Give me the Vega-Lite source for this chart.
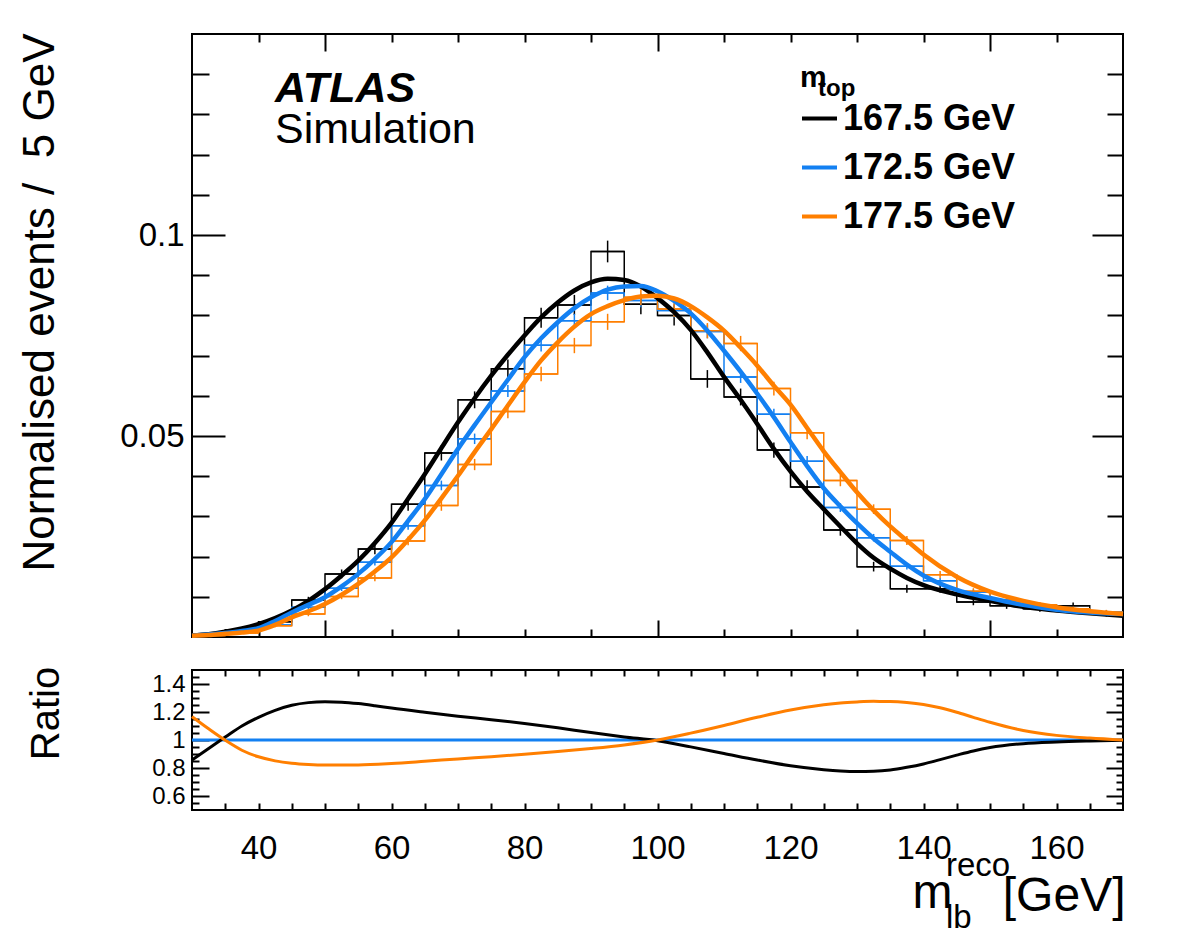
{
  "$schema": "https://vega.github.io/schema/vega-lite/v6.json",
  "padding": {"left": 16, "top": 31, "right": 0, "bottom": 0},
  "bounds": "flush",
  "spacing": 33,
  "background": "white",
  "config": {
    "font": "Liberation Sans",
    "view": {"stroke": "black", "strokeWidth": 2},
    "axis": {"domain": false, "grid": false, "labelFont": "Liberation Sans", "titleFont": "Liberation Sans", "labelColor": "black", "titleColor": "black", "tickColor": "black", "tickWidth": 2, "titleFontWeight": "normal", "labelFontWeight": "normal"}
  },
  "title": {"text": "top", "anchor": "start", "frame": "group", "orient": "top", "offset": 0, "baseline": "alphabetic", "font": "Liberation Sans", "fontSize": 24, "fontWeight": "bold", "color": "black", "dx": 626, "dy": 88},
  "datasets": {
    "hist": [
      {"s":"167.5 GeV","lo":30,"hi":35,"xc":32.5,"v":0.0006,"e":0.0002},
      {"s":"167.5 GeV","lo":35,"hi":40,"xc":37.5,"v":0.0018,"e":0.0004},
      {"s":"167.5 GeV","lo":40,"hi":45,"xc":42.5,"v":0.0038,"e":0.0005},
      {"s":"167.5 GeV","lo":45,"hi":50,"xc":47.5,"v":0.0092,"e":0.0008},
      {"s":"167.5 GeV","lo":50,"hi":55,"xc":52.5,"v":0.0157,"e":0.0011},
      {"s":"167.5 GeV","lo":55,"hi":60,"xc":57.5,"v":0.0219,"e":0.0013},
      {"s":"167.5 GeV","lo":60,"hi":65,"xc":62.5,"v":0.0330,"e":0.0016},
      {"s":"167.5 GeV","lo":65,"hi":70,"xc":67.5,"v":0.0458,"e":0.0019},
      {"s":"167.5 GeV","lo":70,"hi":75,"xc":72.5,"v":0.0590,"e":0.0021},
      {"s":"167.5 GeV","lo":75,"hi":80,"xc":77.5,"v":0.0667,"e":0.0023},
      {"s":"167.5 GeV","lo":80,"hi":85,"xc":82.5,"v":0.0794,"e":0.0025},
      {"s":"167.5 GeV","lo":85,"hi":90,"xc":87.5,"v":0.0826,"e":0.0025},
      {"s":"167.5 GeV","lo":90,"hi":95,"xc":92.5,"v":0.0959,"e":0.0027},
      {"s":"167.5 GeV","lo":95,"hi":100,"xc":97.5,"v":0.0828,"e":0.0025},
      {"s":"167.5 GeV","lo":100,"hi":105,"xc":102.5,"v":0.0800,"e":0.0025},
      {"s":"167.5 GeV","lo":105,"hi":110,"xc":107.5,"v":0.0642,"e":0.0022},
      {"s":"167.5 GeV","lo":110,"hi":115,"xc":112.5,"v":0.0597,"e":0.0021},
      {"s":"167.5 GeV","lo":115,"hi":120,"xc":117.5,"v":0.0465,"e":0.0019},
      {"s":"167.5 GeV","lo":120,"hi":125,"xc":122.5,"v":0.0373,"e":0.0017},
      {"s":"167.5 GeV","lo":125,"hi":130,"xc":127.5,"v":0.0266,"e":0.0014},
      {"s":"167.5 GeV","lo":130,"hi":135,"xc":132.5,"v":0.0175,"e":0.0012},
      {"s":"167.5 GeV","lo":135,"hi":140,"xc":137.5,"v":0.0120,"e":0.0010},
      {"s":"167.5 GeV","lo":140,"hi":145,"xc":142.5,"v":0.0120,"e":0.0010},
      {"s":"167.5 GeV","lo":145,"hi":150,"xc":147.5,"v":0.0087,"e":0.0008},
      {"s":"167.5 GeV","lo":150,"hi":155,"xc":152.5,"v":0.0078,"e":0.0008},
      {"s":"167.5 GeV","lo":155,"hi":160,"xc":157.5,"v":0.0070,"e":0.0007},
      {"s":"167.5 GeV","lo":160,"hi":165,"xc":162.5,"v":0.0078,"e":0.0008},
      {"s":"167.5 GeV","lo":165,"hi":170,"xc":167.5,"v":0.0058,"e":0.0007},
      {"s":"172.5 GeV","lo":30,"hi":35,"xc":32.5,"v":0.0005,"e":0.00013},
      {"s":"172.5 GeV","lo":35,"hi":40,"xc":37.5,"v":0.0014,"e":0.00022},
      {"s":"172.5 GeV","lo":40,"hi":45,"xc":42.5,"v":0.0030,"e":0.00033},
      {"s":"172.5 GeV","lo":45,"hi":50,"xc":47.5,"v":0.0074,"e":0.0005},
      {"s":"172.5 GeV","lo":50,"hi":55,"xc":52.5,"v":0.0121,"e":0.00066},
      {"s":"172.5 GeV","lo":55,"hi":60,"xc":57.5,"v":0.0186,"e":0.0008},
      {"s":"172.5 GeV","lo":60,"hi":65,"xc":62.5,"v":0.0277,"e":0.001},
      {"s":"172.5 GeV","lo":65,"hi":70,"xc":67.5,"v":0.0377,"e":0.0012},
      {"s":"172.5 GeV","lo":70,"hi":75,"xc":72.5,"v":0.0493,"e":0.0013},
      {"s":"172.5 GeV","lo":75,"hi":80,"xc":77.5,"v":0.0612,"e":0.0015},
      {"s":"172.5 GeV","lo":80,"hi":85,"xc":82.5,"v":0.0726,"e":0.0016},
      {"s":"172.5 GeV","lo":85,"hi":90,"xc":87.5,"v":0.0787,"e":0.0017},
      {"s":"172.5 GeV","lo":90,"hi":95,"xc":92.5,"v":0.0856,"e":0.0018},
      {"s":"172.5 GeV","lo":95,"hi":100,"xc":97.5,"v":0.0837,"e":0.0017},
      {"s":"172.5 GeV","lo":100,"hi":105,"xc":102.5,"v":0.0812,"e":0.0017},
      {"s":"172.5 GeV","lo":105,"hi":110,"xc":107.5,"v":0.0760,"e":0.0017},
      {"s":"172.5 GeV","lo":110,"hi":115,"xc":112.5,"v":0.0647,"e":0.0015},
      {"s":"172.5 GeV","lo":115,"hi":120,"xc":117.5,"v":0.0554,"e":0.0014},
      {"s":"172.5 GeV","lo":120,"hi":125,"xc":122.5,"v":0.0437,"e":0.0013},
      {"s":"172.5 GeV","lo":125,"hi":130,"xc":127.5,"v":0.0322,"e":0.0011},
      {"s":"172.5 GeV","lo":130,"hi":135,"xc":132.5,"v":0.0247,"e":0.00094},
      {"s":"172.5 GeV","lo":135,"hi":140,"xc":137.5,"v":0.0176,"e":0.0008},
      {"s":"172.5 GeV","lo":140,"hi":145,"xc":142.5,"v":0.0140,"e":0.0007},
      {"s":"172.5 GeV","lo":145,"hi":150,"xc":147.5,"v":0.0112,"e":0.00063},
      {"s":"172.5 GeV","lo":150,"hi":155,"xc":152.5,"v":0.0092,"e":0.00058},
      {"s":"172.5 GeV","lo":155,"hi":160,"xc":157.5,"v":0.0080,"e":0.00054},
      {"s":"172.5 GeV","lo":160,"hi":165,"xc":162.5,"v":0.0070,"e":0.0005},
      {"s":"172.5 GeV","lo":165,"hi":170,"xc":167.5,"v":0.0062,"e":0.00047},
      {"s":"177.5 GeV","lo":30,"hi":35,"xc":32.5,"v":0.0004,"e":0.00014},
      {"s":"177.5 GeV","lo":35,"hi":40,"xc":37.5,"v":0.0010,"e":0.00022},
      {"s":"177.5 GeV","lo":40,"hi":45,"xc":42.5,"v":0.0028,"e":0.00037},
      {"s":"177.5 GeV","lo":45,"hi":50,"xc":47.5,"v":0.0057,"e":0.00053},
      {"s":"177.5 GeV","lo":50,"hi":55,"xc":52.5,"v":0.0101,"e":0.0007},
      {"s":"177.5 GeV","lo":55,"hi":60,"xc":57.5,"v":0.0147,"e":0.00085},
      {"s":"177.5 GeV","lo":60,"hi":65,"xc":62.5,"v":0.0239,"e":0.0011},
      {"s":"177.5 GeV","lo":65,"hi":70,"xc":67.5,"v":0.0327,"e":0.0013},
      {"s":"177.5 GeV","lo":70,"hi":75,"xc":72.5,"v":0.0429,"e":0.0014},
      {"s":"177.5 GeV","lo":75,"hi":80,"xc":77.5,"v":0.0561,"e":0.0017},
      {"s":"177.5 GeV","lo":80,"hi":85,"xc":82.5,"v":0.0654,"e":0.0018},
      {"s":"177.5 GeV","lo":85,"hi":90,"xc":87.5,"v":0.0725,"e":0.0019},
      {"s":"177.5 GeV","lo":90,"hi":95,"xc":92.5,"v":0.0784,"e":0.002},
      {"s":"177.5 GeV","lo":95,"hi":100,"xc":97.5,"v":0.0845,"e":0.002},
      {"s":"177.5 GeV","lo":100,"hi":105,"xc":102.5,"v":0.0816,"e":0.002},
      {"s":"177.5 GeV","lo":105,"hi":110,"xc":107.5,"v":0.0762,"e":0.0019},
      {"s":"177.5 GeV","lo":110,"hi":115,"xc":112.5,"v":0.0730,"e":0.0019},
      {"s":"177.5 GeV","lo":115,"hi":120,"xc":117.5,"v":0.0618,"e":0.0017},
      {"s":"177.5 GeV","lo":120,"hi":125,"xc":122.5,"v":0.0508,"e":0.0016},
      {"s":"177.5 GeV","lo":125,"hi":130,"xc":127.5,"v":0.0389,"e":0.0014},
      {"s":"177.5 GeV","lo":130,"hi":135,"xc":132.5,"v":0.0318,"e":0.0012},
      {"s":"177.5 GeV","lo":135,"hi":140,"xc":137.5,"v":0.0240,"e":0.0011},
      {"s":"177.5 GeV","lo":140,"hi":145,"xc":142.5,"v":0.0155,"e":0.0009},
      {"s":"177.5 GeV","lo":145,"hi":150,"xc":147.5,"v":0.0114,"e":0.00075},
      {"s":"177.5 GeV","lo":150,"hi":155,"xc":152.5,"v":0.0090,"e":0.00066},
      {"s":"177.5 GeV","lo":155,"hi":160,"xc":157.5,"v":0.0080,"e":0.00063},
      {"s":"177.5 GeV","lo":160,"hi":165,"xc":162.5,"v":0.0070,"e":0.00059},
      {"s":"177.5 GeV","lo":165,"hi":170,"xc":167.5,"v":0.0062,"e":0.00055}
    ],
    "fit": [
      {"s":"167.5 GeV","x":30,"y":0.0004},{"s":"167.5 GeV","x":32.5,"y":0.0007},{"s":"167.5 GeV","x":35,"y":0.0013},{"s":"167.5 GeV","x":37.5,"y":0.0021},
      {"s":"167.5 GeV","x":40,"y":0.0032},{"s":"167.5 GeV","x":42.5,"y":0.0047},{"s":"167.5 GeV","x":45,"y":0.0066},{"s":"167.5 GeV","x":47.5,"y":0.0090},
      {"s":"167.5 GeV","x":50,"y":0.0119},{"s":"167.5 GeV","x":52.5,"y":0.0153},{"s":"167.5 GeV","x":55,"y":0.0190},{"s":"167.5 GeV","x":57.5,"y":0.0234},
      {"s":"167.5 GeV","x":60,"y":0.0284},{"s":"167.5 GeV","x":62.5,"y":0.0344},{"s":"167.5 GeV","x":65,"y":0.0405},{"s":"167.5 GeV","x":67.5,"y":0.0470},
      {"s":"167.5 GeV","x":70,"y":0.0534},{"s":"167.5 GeV","x":72.5,"y":0.0594},{"s":"167.5 GeV","x":75,"y":0.0650},{"s":"167.5 GeV","x":77.5,"y":0.0702},
      {"s":"167.5 GeV","x":80,"y":0.0750},{"s":"167.5 GeV","x":82.5,"y":0.0795},{"s":"167.5 GeV","x":85,"y":0.0832},{"s":"167.5 GeV","x":87.5,"y":0.0862},
      {"s":"167.5 GeV","x":90,"y":0.0882},{"s":"167.5 GeV","x":92.5,"y":0.0891},{"s":"167.5 GeV","x":95,"y":0.0888},{"s":"167.5 GeV","x":97.5,"y":0.0872},
      {"s":"167.5 GeV","x":100,"y":0.0843},{"s":"167.5 GeV","x":102.5,"y":0.0808},{"s":"167.5 GeV","x":105,"y":0.0764},{"s":"167.5 GeV","x":107.5,"y":0.0708},
      {"s":"167.5 GeV","x":110,"y":0.0647},{"s":"167.5 GeV","x":112.5,"y":0.0590},{"s":"167.5 GeV","x":115,"y":0.0530},{"s":"167.5 GeV","x":117.5,"y":0.0468},
      {"s":"167.5 GeV","x":120,"y":0.0412},{"s":"167.5 GeV","x":122.5,"y":0.0362},{"s":"167.5 GeV","x":125,"y":0.0318},{"s":"167.5 GeV","x":127.5,"y":0.0275},
      {"s":"167.5 GeV","x":130,"y":0.0233},{"s":"167.5 GeV","x":132.5,"y":0.0197},{"s":"167.5 GeV","x":135,"y":0.0170},{"s":"167.5 GeV","x":137.5,"y":0.0147},
      {"s":"167.5 GeV","x":140,"y":0.0129},{"s":"167.5 GeV","x":145,"y":0.0106},{"s":"167.5 GeV","x":150,"y":0.0090},{"s":"167.5 GeV","x":155,"y":0.0075},
      {"s":"167.5 GeV","x":160,"y":0.0066},{"s":"167.5 GeV","x":165,"y":0.0059},{"s":"167.5 GeV","x":170,"y":0.0053},
      {"s":"172.5 GeV","x":30,"y":0.0003},{"s":"172.5 GeV","x":32.5,"y":0.0006},{"s":"172.5 GeV","x":35,"y":0.0010},{"s":"172.5 GeV","x":37.5,"y":0.0015},
      {"s":"172.5 GeV","x":40,"y":0.0022},{"s":"172.5 GeV","x":42.5,"y":0.0040},{"s":"172.5 GeV","x":45,"y":0.0061},{"s":"172.5 GeV","x":47.5,"y":0.0080},
      {"s":"172.5 GeV","x":50,"y":0.0099},{"s":"172.5 GeV","x":52.5,"y":0.0126},{"s":"172.5 GeV","x":55,"y":0.0157},{"s":"172.5 GeV","x":57.5,"y":0.0194},
      {"s":"172.5 GeV","x":60,"y":0.0236},{"s":"172.5 GeV","x":62.5,"y":0.0289},{"s":"172.5 GeV","x":65,"y":0.0343},{"s":"172.5 GeV","x":67.5,"y":0.0405},
      {"s":"172.5 GeV","x":70,"y":0.0468},{"s":"172.5 GeV","x":72.5,"y":0.0527},{"s":"172.5 GeV","x":75,"y":0.0584},{"s":"172.5 GeV","x":77.5,"y":0.0640},
      {"s":"172.5 GeV","x":80,"y":0.0696},{"s":"172.5 GeV","x":82.5,"y":0.0743},{"s":"172.5 GeV","x":85,"y":0.0783},{"s":"172.5 GeV","x":87.5,"y":0.0818},
      {"s":"172.5 GeV","x":90,"y":0.0845},{"s":"172.5 GeV","x":92.5,"y":0.0864},{"s":"172.5 GeV","x":95,"y":0.0872},{"s":"172.5 GeV","x":97.5,"y":0.0873},
      {"s":"172.5 GeV","x":100,"y":0.0860},{"s":"172.5 GeV","x":102.5,"y":0.0836},{"s":"172.5 GeV","x":105,"y":0.0805},{"s":"172.5 GeV","x":107.5,"y":0.0762},
      {"s":"172.5 GeV","x":110,"y":0.0712},{"s":"172.5 GeV","x":112.5,"y":0.0660},{"s":"172.5 GeV","x":115,"y":0.0605},{"s":"172.5 GeV","x":117.5,"y":0.0547},
      {"s":"172.5 GeV","x":120,"y":0.0485},{"s":"172.5 GeV","x":122.5,"y":0.0425},{"s":"172.5 GeV","x":125,"y":0.0370},{"s":"172.5 GeV","x":127.5,"y":0.0325},
      {"s":"172.5 GeV","x":130,"y":0.0283},{"s":"172.5 GeV","x":132.5,"y":0.0245},{"s":"172.5 GeV","x":135,"y":0.0212},{"s":"172.5 GeV","x":137.5,"y":0.0180},
      {"s":"172.5 GeV","x":140,"y":0.0153},{"s":"172.5 GeV","x":145,"y":0.0117},{"s":"172.5 GeV","x":150,"y":0.0097},{"s":"172.5 GeV","x":155,"y":0.0080},
      {"s":"172.5 GeV","x":160,"y":0.0068},{"s":"172.5 GeV","x":165,"y":0.0061},{"s":"172.5 GeV","x":170,"y":0.0057},
      {"s":"177.5 GeV","x":30,"y":0.0003},{"s":"177.5 GeV","x":32.5,"y":0.0005},{"s":"177.5 GeV","x":35,"y":0.0008},{"s":"177.5 GeV","x":37.5,"y":0.0011},
      {"s":"177.5 GeV","x":40,"y":0.0016},{"s":"177.5 GeV","x":42.5,"y":0.0030},{"s":"177.5 GeV","x":45,"y":0.0049},{"s":"177.5 GeV","x":47.5,"y":0.0064},
      {"s":"177.5 GeV","x":50,"y":0.0082},{"s":"177.5 GeV","x":52.5,"y":0.0105},{"s":"177.5 GeV","x":55,"y":0.0132},{"s":"177.5 GeV","x":57.5,"y":0.0163},
      {"s":"177.5 GeV","x":60,"y":0.0198},{"s":"177.5 GeV","x":62.5,"y":0.0242},{"s":"177.5 GeV","x":65,"y":0.0290},{"s":"177.5 GeV","x":67.5,"y":0.0345},
      {"s":"177.5 GeV","x":70,"y":0.0401},{"s":"177.5 GeV","x":72.5,"y":0.0460},{"s":"177.5 GeV","x":75,"y":0.0517},{"s":"177.5 GeV","x":77.5,"y":0.0576},
      {"s":"177.5 GeV","x":80,"y":0.0634},{"s":"177.5 GeV","x":82.5,"y":0.0688},{"s":"177.5 GeV","x":85,"y":0.0733},{"s":"177.5 GeV","x":87.5,"y":0.0772},
      {"s":"177.5 GeV","x":90,"y":0.0803},{"s":"177.5 GeV","x":92.5,"y":0.0823},{"s":"177.5 GeV","x":95,"y":0.0838},{"s":"177.5 GeV","x":97.5,"y":0.0847},
      {"s":"177.5 GeV","x":100,"y":0.0849},{"s":"177.5 GeV","x":102.5,"y":0.0842},{"s":"177.5 GeV","x":105,"y":0.0823},{"s":"177.5 GeV","x":107.5,"y":0.0795},
      {"s":"177.5 GeV","x":110,"y":0.0762},{"s":"177.5 GeV","x":112.5,"y":0.0720},{"s":"177.5 GeV","x":115,"y":0.0675},{"s":"177.5 GeV","x":117.5,"y":0.0625},
      {"s":"177.5 GeV","x":120,"y":0.0578},{"s":"177.5 GeV","x":122.5,"y":0.0520},{"s":"177.5 GeV","x":125,"y":0.0462},{"s":"177.5 GeV","x":127.5,"y":0.0410},
      {"s":"177.5 GeV","x":130,"y":0.0360},{"s":"177.5 GeV","x":132.5,"y":0.0315},{"s":"177.5 GeV","x":135,"y":0.0275},{"s":"177.5 GeV","x":137.5,"y":0.0240},
      {"s":"177.5 GeV","x":140,"y":0.0205},{"s":"177.5 GeV","x":145,"y":0.0150},{"s":"177.5 GeV","x":150,"y":0.0113},{"s":"177.5 GeV","x":155,"y":0.0090},
      {"s":"177.5 GeV","x":160,"y":0.0074},{"s":"177.5 GeV","x":165,"y":0.0064},{"s":"177.5 GeV","x":170,"y":0.0057}
    ],
    "ratio": [
      {"s":"167.5 GeV","x":30,"r":0.857},{"s":"167.5 GeV","x":32.5,"r":0.94},{"s":"167.5 GeV","x":35,"r":1.021},{"s":"167.5 GeV","x":37.5,"r":1.10},
      {"s":"167.5 GeV","x":40,"r":1.162},{"s":"167.5 GeV","x":42.5,"r":1.212},{"s":"167.5 GeV","x":45,"r":1.248},{"s":"167.5 GeV","x":47.5,"r":1.267},
      {"s":"167.5 GeV","x":50,"r":1.273},{"s":"167.5 GeV","x":52.5,"r":1.27},{"s":"167.5 GeV","x":55,"r":1.26},{"s":"167.5 GeV","x":57.5,"r":1.245},
      {"s":"167.5 GeV","x":60,"r":1.228},{"s":"167.5 GeV","x":65,"r":1.198},{"s":"167.5 GeV","x":70,"r":1.17},{"s":"167.5 GeV","x":75,"r":1.145},
      {"s":"167.5 GeV","x":80,"r":1.118},{"s":"167.5 GeV","x":85,"r":1.087},{"s":"167.5 GeV","x":90,"r":1.053},{"s":"167.5 GeV","x":95,"r":1.022},
      {"s":"167.5 GeV","x":100,"r":0.995},{"s":"167.5 GeV","x":105,"r":0.951},{"s":"167.5 GeV","x":110,"r":0.904},{"s":"167.5 GeV","x":115,"r":0.857},
      {"s":"167.5 GeV","x":120,"r":0.816},{"s":"167.5 GeV","x":125,"r":0.788},{"s":"167.5 GeV","x":127.5,"r":0.779},{"s":"167.5 GeV","x":130,"r":0.775},
      {"s":"167.5 GeV","x":132.5,"r":0.777},{"s":"167.5 GeV","x":135,"r":0.786},{"s":"167.5 GeV","x":137.5,"r":0.805},{"s":"167.5 GeV","x":140,"r":0.829},
      {"s":"167.5 GeV","x":142.5,"r":0.86},{"s":"167.5 GeV","x":145,"r":0.892},{"s":"167.5 GeV","x":147.5,"r":0.922},{"s":"167.5 GeV","x":150,"r":0.946},
      {"s":"167.5 GeV","x":155,"r":0.974},{"s":"167.5 GeV","x":160,"r":0.986},{"s":"167.5 GeV","x":165,"r":0.993},{"s":"167.5 GeV","x":170,"r":0.998},
      {"s":"172.5 GeV","x":30,"r":1},{"s":"172.5 GeV","x":170,"r":1},
      {"s":"177.5 GeV","x":30,"r":1.167},{"s":"177.5 GeV","x":32.5,"r":1.08},{"s":"177.5 GeV","x":35,"r":0.998},{"s":"177.5 GeV","x":37.5,"r":0.927},
      {"s":"177.5 GeV","x":40,"r":0.88},{"s":"177.5 GeV","x":42.5,"r":0.851},{"s":"177.5 GeV","x":45,"r":0.834},{"s":"177.5 GeV","x":47.5,"r":0.825},
      {"s":"177.5 GeV","x":50,"r":0.821},{"s":"177.5 GeV","x":55,"r":0.822},{"s":"177.5 GeV","x":60,"r":0.832},{"s":"177.5 GeV","x":65,"r":0.848},
      {"s":"177.5 GeV","x":70,"r":0.865},{"s":"177.5 GeV","x":75,"r":0.881},{"s":"177.5 GeV","x":80,"r":0.898},{"s":"177.5 GeV","x":85,"r":0.917},
      {"s":"177.5 GeV","x":90,"r":0.939},{"s":"177.5 GeV","x":95,"r":0.965},{"s":"177.5 GeV","x":100,"r":1.0},{"s":"177.5 GeV","x":105,"r":1.049},
      {"s":"177.5 GeV","x":110,"r":1.104},{"s":"177.5 GeV","x":115,"r":1.162},{"s":"177.5 GeV","x":120,"r":1.214},{"s":"177.5 GeV","x":125,"r":1.252},
      {"s":"177.5 GeV","x":127.5,"r":1.265},{"s":"177.5 GeV","x":130,"r":1.272},{"s":"177.5 GeV","x":132.5,"r":1.276},{"s":"177.5 GeV","x":135,"r":1.275},
      {"s":"177.5 GeV","x":137.5,"r":1.268},{"s":"177.5 GeV","x":140,"r":1.254},{"s":"177.5 GeV","x":142.5,"r":1.23},{"s":"177.5 GeV","x":145,"r":1.198},
      {"s":"177.5 GeV","x":147.5,"r":1.162},{"s":"177.5 GeV","x":150,"r":1.127},{"s":"177.5 GeV","x":155,"r":1.068},{"s":"177.5 GeV","x":160,"r":1.033},
      {"s":"177.5 GeV","x":165,"r":1.014},{"s":"177.5 GeV","x":170,"r":1.0}
    ]
  },
  "vconcat": [
    {
      "width": 931,
      "height": 603,
      "title": {"text": "ATLAS", "subtitle": "Simulation", "anchor": "start", "frame": "group", "orient": "top", "offset": 0, "baseline": "top", "font": "Liberation Sans", "fontSize": 43, "fontWeight": "bold", "fontStyle": "italic", "color": "black", "subtitleFont": "Liberation Sans", "subtitleFontSize": 43, "subtitleFontStyle": "normal", "subtitleFontWeight": "normal", "subtitleColor": "black", "subtitlePadding": -2, "dx": 83, "dy": 119},
      "resolve": {"axis": {"x": "independent", "y": "independent"}},
      "layer": [
        {
          "data": {"name": "hist"},
          "mark": {"type": "rule", "strokeWidth": 1.5},
          "encoding": {
            "x": {"field": "lo", "type": "quantitative", "scale": {"domain": [30, 170], "nice": false, "zero": false},
                  "axis": {"orient": "bottom", "values": [40,50,60,70,80,90,100,110,120,130,140,150,160], "labels": false, "title": null,
                           "tickSize": {"condition": {"test": "datum.value == 50 || datum.value == 100 || datum.value == 150", "value": -17}, "value": -8}}},
            "x2": {"field": "hi"},
            "y": {"field": "v", "type": "quantitative", "scale": {"domain": [0, 0.15], "nice": false, "zero": false},
                  "axis": {"orient": "left", "values": [0.01,0.02,0.03,0.04,0.05,0.06,0.07,0.08,0.09,0.1,0.11,0.12,0.13,0.14],
                           "labelExpr": "datum.value == 0.05 ? '0.05' : (datum.value == 0.1 ? '0.1' : '')",
                           "labelFontSize": 33, "labelPadding": 41,
                           "tickSize": {"condition": {"test": "datum.value == 0.05 || datum.value == 0.1", "value": -33}, "value": -17},
                           "title": "Normalised events / \u00a05 GeV", "titleFontSize": 44, "titleX": -139, "titleY": 268, "titleAngle": -90, "titleBaseline": "alphabetic", "titleAlign": "center"}},
            "color": {"field": "s", "type": "nominal", "scale": {"domain": ["167.5 GeV", "172.5 GeV", "177.5 GeV"], "range": ["#000000", "#1380f2", "#ff7f00"]}}
          }
        },
        {
          "data": {"name": "hist"},
          "mark": {"type": "line", "interpolate": "step", "strokeWidth": 1.5},
          "encoding": {
            "x": {"field": "xc", "type": "quantitative",
                  "axis": {"orient": "top", "values": [40,50,60,70,80,90,100,110,120,130,140,150,160], "labels": false, "title": null,
                           "tickSize": {"condition": {"test": "datum.value == 50 || datum.value == 100 || datum.value == 150", "value": -17}, "value": -8}}},
            "y": {"field": "v", "type": "quantitative",
                  "axis": {"orient": "right", "values": [0.01,0.02,0.03,0.04,0.05,0.06,0.07,0.08,0.09,0.1,0.11,0.12,0.13,0.14], "labels": false, "title": null,
                           "tickSize": {"condition": {"test": "datum.value == 0.05 || datum.value == 0.1", "value": -31}, "value": -16}}},
            "color": {"field": "s", "type": "nominal"}
          }
        },
        {
          "data": {"name": "hist"},
          "mark": {"type": "errorbar", "ticks": false, "thickness": 1.5},
          "encoding": {
            "x": {"field": "xc", "type": "quantitative", "axis": null},
            "y": {"field": "v", "type": "quantitative", "axis": null},
            "yError": {"field": "e"},
            "color": {"field": "s", "type": "nominal"}
          }
        },
        {
          "data": {"name": "fit"},
          "mark": {"type": "line", "interpolate": "monotone", "strokeWidth": 4.5},
          "encoding": {
            "x": {"field": "x", "type": "quantitative", "axis": null},
            "y": {"field": "y", "type": "quantitative", "axis": null},
            "color": {"field": "s", "type": "nominal",
                      "legend": {"title": "m", "orient": "none", "legendX": 608, "legendY": 29, "titleFont": "Liberation Sans", "titleFontSize": 30, "titleFontWeight": "bold", "titleColor": "black",
                                 "labelFont": "Liberation Sans", "labelFontSize": 36, "labelFontWeight": "bold", "labelColor": "black", "labelLimit": 400,
                                 "symbolType": "stroke", "symbolSize": 1225, "symbolStrokeWidth": 4, "labelOffset": 4, "rowPadding": 11, "titlePadding": 6, "padding": 0}}
          }
        }
      ]
    },
    {
      "width": 931,
      "height": 140,
      "title": {"text": "reco", "subtitle": "lb", "anchor": "start", "frame": "group", "orient": "bottom", "offset": 0, "baseline": "alphabetic", "font": "Liberation Sans", "fontSize": 33, "fontWeight": "normal", "color": "black", "subtitleFont": "Liberation Sans", "subtitleFontSize": 33, "subtitleColor": "black", "subtitlePadding": 19, "dx": 754, "dy": -44},
      "resolve": {"axis": {"x": "independent", "y": "independent"}},
      "data": {"name": "ratio"},
      "layer": [
        {
          "transform": [{"filter": "datum.s == '172.5 GeV'"}],
          "mark": {"type": "line", "color": "#1380f2", "strokeWidth": 3},
          "encoding": {
            "x": {"field": "x", "type": "quantitative", "scale": {"domain": [30, 170], "nice": false, "zero": false},
                  "axis": {"orient": "top", "values": [35,40,45,50,55,60,65,70,75,80,85,90,95,100,105,110,115,120,125,130,135,140,145,150,155,160,165], "labels": false, "title": null, "tickSize": -6}},
            "y": {"field": "r", "type": "quantitative", "scale": {"domain": [0.5, 1.5], "nice": false, "zero": false},
                  "axis": {"orient": "right", "values": [0.55,0.6,0.65,0.7,0.75,0.8,0.85,0.9,0.95,1,1.05,1.1,1.15,1.2,1.25,1.3,1.35,1.4,1.45], "labels": false, "title": null,
                           "tickSize": {"condition": {"test": "datum.value == 0.6 || datum.value == 0.8 || datum.value == 1 || datum.value == 1.2 || datum.value == 1.4", "value": -17}, "value": -7}}}
          }
        },
        {
          "transform": [{"filter": "datum.s == '167.5 GeV'"}],
          "mark": {"type": "line", "color": "#000000", "strokeWidth": 3, "interpolate": "monotone"},
          "encoding": {
            "x": {"field": "x", "type": "quantitative",
                  "axis": {"orient": "bottom", "values": [35,40,45,50,55,60,65,70,75,80,85,90,95,100,105,110,115,120,125,130,135,140,145,150,155,160,165],
                           "format": "d", "labelExpr": "datum.value % 20 == 0 ? datum.label : ''", "labelFontSize": 33, "labelPadding": 29,
                           "tickSize": -7,
                           "title": "[GeV]", "titleFontSize": 48, "titleX": 933, "titleY": 100, "titleAlign": "right", "titleBaseline": "alphabetic"}},
            "y": {"field": "r", "type": "quantitative",
                  "axis": {"orient": "left", "values": [0.55,0.6,0.65,0.7,0.75,0.8,0.85,0.9,0.95,1,1.05,1.1,1.15,1.2,1.25,1.3,1.35,1.4,1.45],
                           "format": "~g", "labelExpr": "(datum.value == 0.6 || datum.value == 0.8 || datum.value == 1 || datum.value == 1.2 || datum.value == 1.4) ? datum.label : ''",
                           "labelFontSize": 24, "labelPadding": 24,
                           "tickSize": {"condition": {"test": "datum.value == 0.6 || datum.value == 0.8 || datum.value == 1 || datum.value == 1.2 || datum.value == 1.4", "value": -17}, "value": -7},
                           "title": "Ratio", "titleFontSize": 40, "titleX": -134, "titleY": 43, "titleAngle": -90, "titleBaseline": "alphabetic", "titleAlign": "center"}}
          }
        },
        {
          "transform": [{"filter": "datum.s == '177.5 GeV'"}],
          "mark": {"type": "line", "color": "#ff7f00", "strokeWidth": 3, "interpolate": "monotone"},
          "encoding": {
            "x": {"field": "x", "type": "quantitative",
                  "axis": {"orient": "bottom", "labels": false, "ticks": false, "title": "m", "titleFontSize": 48, "titleX": 720, "titleY": 97, "titleAlign": "left", "titleBaseline": "alphabetic"}},
            "y": {"field": "r", "type": "quantitative", "axis": null}
          }
        }
      ]
    }
  ]
}
